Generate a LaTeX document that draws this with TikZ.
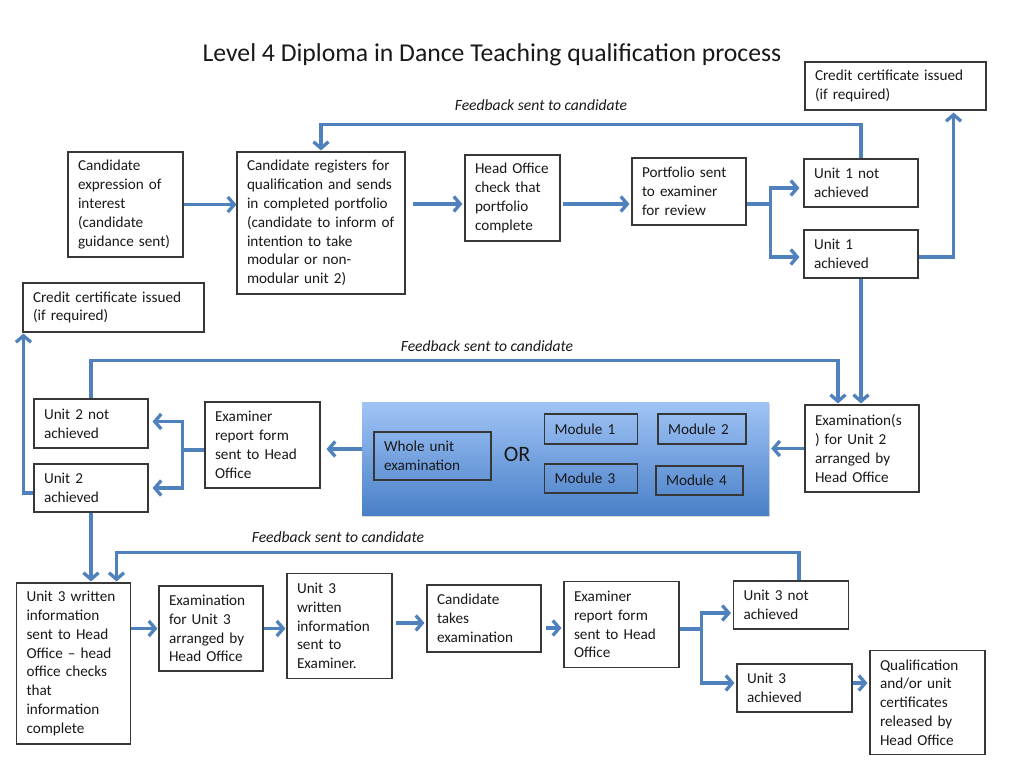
\documentclass[tikz,border=0pt]{standalone}
\usepackage{fontspec}
\setmainfont{Carlito}
\usetikzlibrary{arrows.meta,shadows}
\definecolor{conc}{RGB}{79,129,189}
\definecolor{boxc}{RGB}{55,55,55}
\definecolor{txtc}{RGB}{25,25,25}
\definecolor{bluetop}{RGB}{160,196,246}
\definecolor{bluebot}{RGB}{74,128,200}
\newcommand\bxfont{\fontsize{15.2}{18.8}\selectfont}
\tikzset{
  box/.style={draw=boxc, line width=1.1pt, fill=white, inner xsep=10pt, inner ysep=2pt,
    align=left, font=\bxfont, text=txtc},
  modbox/.style={box, fill=none},
  lineC/.style={draw=conc, line width=3.3pt},
  conn/.style={lineC, -{Straight Barb[length=6.5pt,width=15pt]}},
  fb/.style={font=\fontsize{15.6}{18}\selectfont\itshape, text=txtc},
}
\begin{document}
\begin{tikzpicture}[x=1pt,y=-1pt]
\useasboundingbox[fill=white] (0,0) rectangle (1024,768);

\node[font=\fontsize{25.7}{30}\selectfont, text=txtc] (title) at (492,55) {Level 4 Diploma in Dance Teaching qualification process};

% row 1
\node[box, minimum width=181pt, minimum height=48pt, text width=161pt] (ccT) at (895.5,86) {Credit certificate issued\\(if required)};
\node[box, minimum width=115pt, minimum height=105pt, text width=95pt] (cand) at (125.5,204.5) {Candidate\\expression of\\interest\\(candidate\\guidance sent)};
\node[box, minimum width=168pt, minimum height=142pt, text width=148pt] (reg) at (321,223) {Candidate registers for\\qualification and sends\\in completed portfolio\\(candidate to inform of\\intention to take\\modular or non-\\modular unit 2)};
\node[box, minimum width=95pt, minimum height=86pt, text width=75pt] (hoc) at (512.5,198) {Head Office\\check that\\portfolio\\complete};
\node[box, minimum width=114pt, minimum height=67pt, text width=94pt] (psent) at (689,191.5) {Portfolio sent\\to examiner\\for review};
\node[box, minimum width=114pt, minimum height=48pt, text width=94pt] (u1n) at (861,183) {Unit 1 not\\achieved};
\node[box, minimum width=114pt, minimum height=48pt, text width=94pt] (u1a) at (861,254) {Unit 1\\achieved};
\node[box, minimum width=181pt, minimum height=49pt, text width=161pt] (ccL) at (113.5,307.5) {Credit certificate issued\\(if required)};

% row 2
\node[box, minimum width=114pt, minimum height=49pt, text width=94pt] (u2n) at (91,423.5) {Unit 2 not\\achieved};
\node[box, minimum width=114pt, minimum height=48pt, text width=94pt] (u2a) at (91,488) {Unit 2\\achieved};
\node[box, minimum width=115pt, minimum height=86pt, text width=95pt] (erf2) at (262.5,445) {Examiner\\report form\\sent to Head\\Office};
\node[draw=none, minimum width=407pt, minimum height=113pt, top color=bluetop, bottom color=bluebot,
  drop shadow={opacity=0.3, shadow xshift=1pt, shadow yshift=-2pt}] (blue) at (565.5,458.5) {};
\node[modbox, minimum width=117pt, minimum height=48pt, text width=97pt] (whole) at (432.5,456) {Whole unit\\examination};
\node[font=\fontsize{22}{26}\selectfont, text=txtc] (or) at (517,454) {OR};
\node[modbox, minimum width=93pt, minimum height=30pt, text width=73pt] (m1) at (591,429) {Module 1};
\node[modbox, minimum width=88pt, minimum height=30pt, text width=68pt] (m2) at (702,429) {Module 2};
\node[modbox, minimum width=93pt, minimum height=29pt, text width=73pt] (m3) at (591,478.5) {Module 3};
\node[modbox, minimum width=87pt, minimum height=29pt, text width=67pt] (m4) at (699.5,480.5) {Module 4};
\node[box, minimum width=114pt, minimum height=87pt, text width=94pt] (exam2) at (862,448.5) {Examination(s\\) for Unit 2\\arranged by\\Head Office};

% row 3
\node[box, minimum width=114pt, minimum height=161pt, text width=94pt] (u3w) at (73.5,663.5) {Unit 3 written\\information\\sent to Head\\Office – head\\office checks\\that\\information\\complete};
\node[box, minimum width=104pt, minimum height=85pt, text width=84pt] (ex3) at (211,628.5) {Examination\\for Unit 3\\arranged by\\Head Office};
\node[box, minimum width=105pt, minimum height=105pt, text width=85pt] (u3e) at (339.5,626) {Unit 3\\written\\information\\sent to\\Examiner.};
\node[box, minimum width=114pt, minimum height=67pt, text width=94pt] (cte) at (484,618.5) {Candidate\\takes\\examination};
\node[box, minimum width=115pt, minimum height=86pt, text width=95pt] (erf3) at (621.5,624.5) {Examiner\\report form\\sent to Head\\Office};
\node[box, minimum width=115pt, minimum height=48pt, text width=95pt] (u3n) at (791,605) {Unit 3 not\\achieved};
\node[box, minimum width=115pt, minimum height=48pt, text width=95pt] (u3a) at (794.5,688) {Unit 3\\achieved};
\node[box, minimum width=115pt, minimum height=104pt, text width=95pt] (qual) at (927.5,702.5) {Qualification\\and/or unit\\certificates\\released by\\Head Office};

% feedback labels
\node[fb] (fb1) at (541,105) {Feedback sent to candidate};
\node[fb] (fb2) at (487,346) {Feedback sent to candidate};
\node[fb] (fb3) at (338,537) {Feedback sent to candidate};

% connectors row 1
\draw[conn] (cand.east) -- (cand.east -| reg.west);
\draw[conn] ([shift={(7,-19)}]reg.east) -- ([shift={(-2,6)}]hoc.west);
\draw[conn] ([shift={(2,6)}]hoc.east) -- ([shift={(-2,12.5)}]psent.west);
\draw[lineC] ([shift={(0,12.5)}]psent.east) -- ++(24,0) coordinate (b1);
\draw[conn] (b1) |- ([shift={(-4,5)}]u1n.west);
\draw[conn] (b1) |- ([shift={(-4,3)}]u1a.west);
\draw[conn] (u1n.north) -- ++(0,-34) -| ([shift={(0,-1)}]reg.north);
\draw[conn] ([shift={(0,3)}]u1a.east) -| ([shift={(-33,2)}]ccT.south east);
\draw[conn] (u1a.south) -- ([shift={(0,-1)}]u1a.south |- exam2.north);

% connectors row 2
\draw[conn] (u2n.north) -- ++(0,-38) -| ([shift={(-24,-1)}]exam2.north);
\draw[conn, shorten >=2pt] (exam2.west) -- (exam2.west -| blue.east);
\draw[conn] ([shift={(0,-9.5)}]blue.west) -- ([shift={(6,4)}]erf2.east);
\draw[lineC] ([shift={(0,5)}]erf2.west) -- ++(-22,0) coordinate (b2);
\draw[conn] (b2) |- ([shift={(4,-2)}]u2n.east);
\draw[conn] (b2) |- ([shift={(4,0)}]u2a.east);
\draw[conn] ([shift={(0,5)}]u2a.west) -| ([shift={(1,1)}]ccL.south west);
\draw[conn] (u2a.south) -- ([shift={(0,-1)}]u2a.south |- u3w.north);

% connectors row 3
\draw[conn] ([shift={(8,0)}]u3n.north) -- ++(0,-28) -| ([shift={(43,-1)}]u3w.north);
\draw[conn] (ex3.west -| u3w.east) -- ([shift={(-1,0)}]ex3.west);
\draw[conn] (ex3.east) -- ([shift={(-1,0)}]ex3.east -| u3e.west);
\draw[conn] ([shift={(3,-3)}]u3e.east) -- ([shift={(-2,4.5)}]cte.west);
\draw[conn] ([shift={(4,9.5)}]cte.east) -- ([shift={(-2,3.5)}]erf3.west);
\draw[lineC] ([shift={(0,4.5)}]erf3.east) -- ++(22,0) coordinate (b3);
\draw[conn] (b3) |- ([shift={(-2,8)}]u3n.west);
\draw[conn] (b3) |- ([shift={(-2,-5)}]u3a.west);
\draw[conn] ([shift={(0,-5)}]u3a.east) -- ([shift={(-2,-19.5)}]qual.west);
\end{tikzpicture}
\end{document}
